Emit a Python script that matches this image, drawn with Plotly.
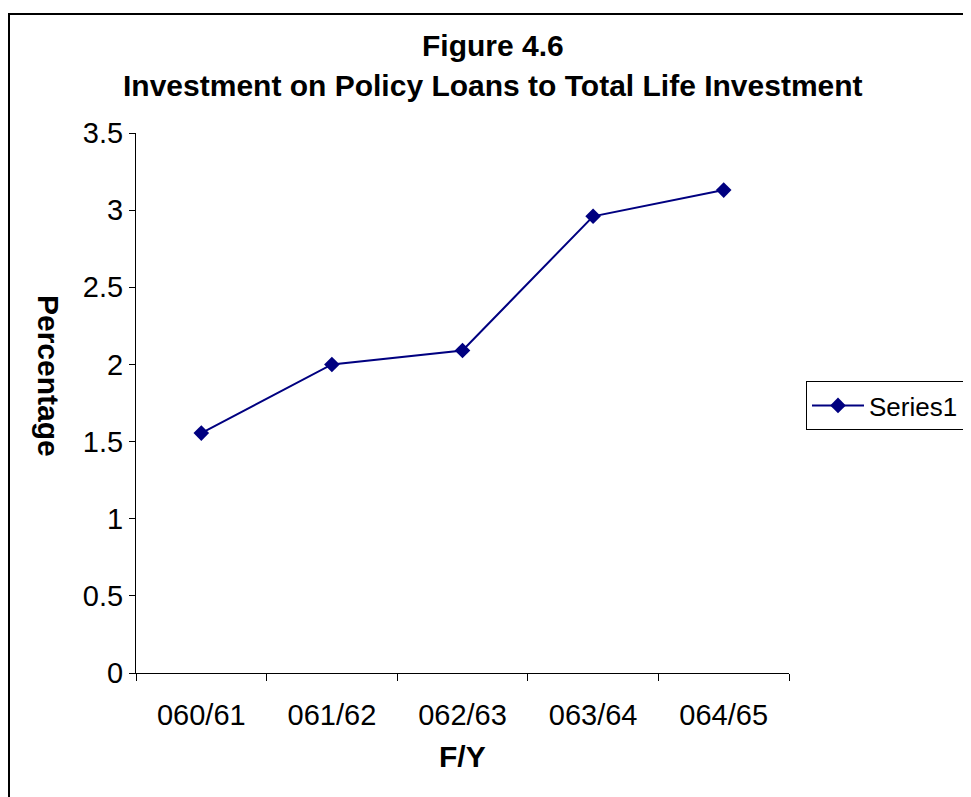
import plotly.graph_objects as go

categories = ["060/61", "061/62", "062/63", "063/64", "064/65"]
values = [1.555, 2.0, 2.09, 2.96, 3.13]
series_name = "Series1"
y_ticks = [0, 0.5, 1, 1.5, 2, 2.5, 3, 3.5]
y_tick_labels = ["0", "0.5", "1", "1.5", "2", "2.5", "3", "3.5"]

W, H = 971, 797
OFF = 8  # page body margin
L, R, T, B = 128, 190, 125, 132
pw, ph = W - L - R, H - T - B


def px(xw):
    return (xw - OFF - L) / pw


def py(yw):
    return (H - B - (yw - OFF)) / ph


FONT = "Liberation Sans, Arial, sans-serif"
NAVY = "#000080"

fig = go.Figure()
fig.add_trace(go.Scatter(
    x=categories, y=values, mode="lines+markers", name=series_name,
    line=dict(color=NAVY, width=2),
    marker=dict(symbol="diamond", size=12, color=NAVY),
))

fig.update_layout(
    width=W, height=H,
    margin=dict(l=L, r=R, t=T, b=B, autoexpand=False),
    paper_bgcolor="white", plot_bgcolor="white",
    font=dict(family=FONT, size=29, color="black"),
    showlegend=True,
    legend=dict(
        x=px(806), y=py(381), xanchor="left", yanchor="top",
        bordercolor="black", borderwidth=1, bgcolor="white",
        font=dict(family=FONT, size=26, color="black"),
        itemwidth=52,
    ),
    xaxis=dict(
        type="category", range=[-0.5, 4.5],
        showline=True, linecolor="black", linewidth=1,
        ticks="outside", ticklen=7, tickcolor="black", tickson="boundaries",
        showgrid=False, zeroline=False,
        tickfont=dict(family=FONT, size=29),
        ticklabelstandoff=16,
    ),
    yaxis=dict(
        range=[0, 3.5], tickvals=y_ticks, ticktext=y_tick_labels,
        showline=True, linecolor="black", linewidth=1,
        ticks="outside", ticklen=6, tickcolor="black",
        showgrid=False, zeroline=False,
        tickfont=dict(family=FONT, size=29),
    ),
    shapes=[dict(
        type="rect", xref="paper", yref="paper",
        x0=px(9), x1=px(1000), y0=py(830), y1=py(14),
        line=dict(color="black", width=2), fillcolor="rgba(0,0,0,0)",
        layer="above",
    )],
    annotations=[
        dict(text="<b>Figure 4.6</b>", xref="paper", yref="paper",
             x=px(493), y=py(46), xanchor="center", yanchor="middle",
             showarrow=False, font=dict(family=FONT, size=30)),
        dict(text="<b>Investment on Policy Loans to Total Life Investment</b>",
             xref="paper", yref="paper",
             x=px(493), y=py(85), xanchor="center", yanchor="middle",
             showarrow=False, font=dict(family=FONT, size=30)),
        dict(text="<b>Percentage</b>", xref="paper", yref="paper",
             x=px(49), y=py(376), xanchor="center", yanchor="middle",
             textangle=90, showarrow=False, font=dict(family=FONT, size=30)),
        dict(text="<b>F/Y</b>", xref="paper", yref="paper",
             x=px(462), y=py(757), xanchor="center", yanchor="middle",
             showarrow=False, font=dict(family=FONT, size=30)),
    ],
)

fig.write_html("out.html")
